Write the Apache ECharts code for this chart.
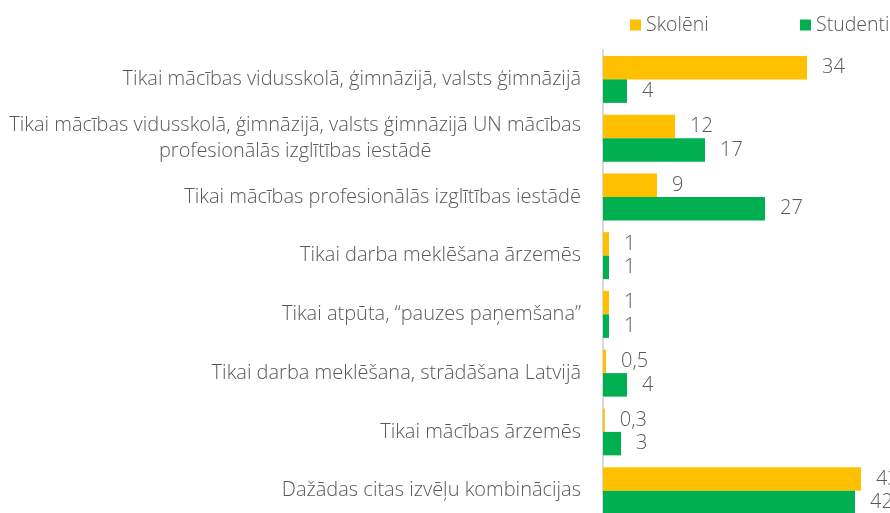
<!DOCTYPE html>
<html>
<head>
<meta charset="utf-8">
<script src="https://cdn.jsdelivr.net/npm/echarts@6/dist/echarts.min.js"></script>
<style>
  html, body { margin: 0; padding: 0; background: #fff; }
  #chart { width: 890px; height: 513px; }
</style>
</head>
<body>
<div id="chart"></div>
<script>
const categories = [
  'Tikai mācības vidusskolā, ģimnāzijā, valsts ģimnāzijā',
  'Tikai mācības vidusskolā, ģimnāzijā, valsts ģimnāzijā UN mācības\nprofesionālās izglītības iestādē',
  'Tikai mācības profesionālās izglītības iestādē',
  'Tikai darba meklēšana ārzemēs',
  'Tikai atpūta, “pauzes paņemšana”',
  'Tikai darba meklēšana, strādāšana Latvijā',
  'Tikai mācības ārzemēs',
  'Dažādas citas izvēļu kombinācijas'
]
const skoleni = [34, 12, 9, 1, 1, 0.5, 0.3, 43]
const studenti = [4, 17, 27, 1, 1, 4, 3, 42]

const chart = echarts.init(document.getElementById('chart'))
const textColor = '#595959'
const font = '"Open Sans", "Noto Sans", sans-serif'
const fmt = p => String(p.value).replace('.', ',')
const lbl = { show: true, position: 'right', distance: 15, color: textColor, fontSize: 20, fontWeight: 300, fontFamily: font, formatter: fmt }
const legendBase = {
  top: 10,
  itemWidth: 11,
  itemHeight: 11,
  icon: 'rect',
  textStyle: { color: textColor, fontSize: 19.5, fontWeight: 300, fontFamily: font }
}

chart.setOption({
  animation: false,
  textStyle: { fontFamily: font },
  legend: [
    Object.assign({ left: 625, data: ['Skolēni'] }, legendBase),
    Object.assign({ left: 795, data: ['Studenti'] }, legendBase)
  ],
  grid: {
    left: 603,
    top: 50,
    height: 470,
    width: 300,
    outerBoundsMode: 'none'
  },
  xAxis: {
    type: 'value',
    min: 0,
    max: 50,
    show: false
  },
  yAxis: {
    type: 'category',
    inverse: true,
    data: categories,
    axisLine: { show: true, lineStyle: { color: '#d9d9d9', width: 2 } },
    axisTick: { show: false },
    axisLabel: {
      margin: 22,
      color: textColor,
      fontSize: 20,
      fontWeight: 300,
      fontFamily: font,
      lineHeight: 26,
      formatter: v => v.split('\n').map(s => '{c|' + s + '}').join('\n'),
      rich: { c: { align: 'center', color: textColor, fontSize: 20, fontWeight: 300, fontFamily: font, lineHeight: 26 } }
    }
  },
  series: [
    {
      name: 'Skolēni',
      type: 'bar',
      data: skoleni,
      barCategoryGap: '20%',
      barGap: '0%',
      itemStyle: { color: '#FFC000' },
      label: lbl
    },
    {
      name: 'Studenti',
      type: 'bar',
      data: studenti,
      barCategoryGap: '20%',
      barGap: '0%',
      itemStyle: { color: '#00B050' },
      label: lbl
    }
  ]
})
</script>
</body>
</html>
